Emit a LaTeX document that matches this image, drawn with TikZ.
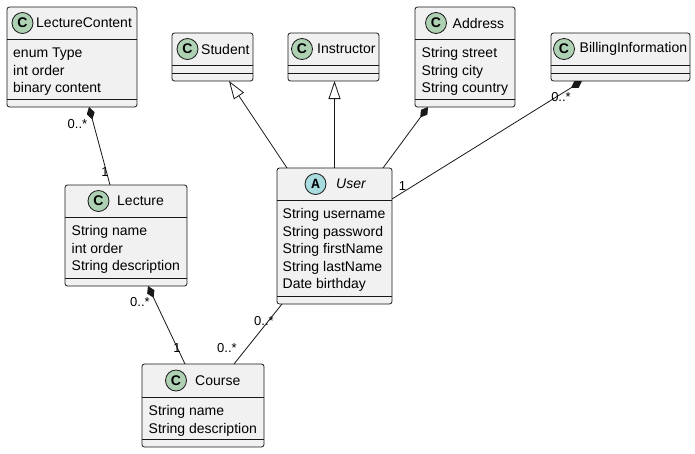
\documentclass[tikz,border=0pt]{standalone}
\usepackage{fontspec}
\setmainfont{Liberation Sans}
\newfontfamily\badgemono{Liberation Mono}
\usetikzlibrary{arrows.meta}
\definecolor{umlfill}{HTML}{F1F1F1}
\definecolor{umlline}{HTML}{181818}
\definecolor{cbadge}{HTML}{ADD1B2}
\definecolor{abadge}{HTML}{A9DCDF}

\begin{document}
\begin{tikzpicture}[x=1pt, y=-1pt,
        classbox/.style={draw=umlline, fill=umlfill, rounded corners=2.5pt, line width=0.8pt, inner sep=0pt, outer sep=0pt},
        badge/.style={circle, draw=umlline, line width=0.8pt, minimum size=21pt, inner sep=0pt, font=\fontsize{14}{14}\selectfont\bfseries},
        cname/.style={anchor=west, inner sep=0pt, font=\fontsize{14}{17}\selectfont},
        attr/.style={anchor=base west, inner sep=0pt, font=\fontsize{14}{17}\selectfont},
        mult/.style={inner sep=0pt, font=\fontsize{13}{15}\selectfont},
        sep/.style={umlline, line width=0.8pt},
        link/.style={umlline, line width=0.8pt},
        inh/.style={link, -{Triangle[open, length=18pt, width=12pt]}},
        comp/.style={link, {Diamond[length=13pt, width=8pt]}-}]
        \path[use as bounding box, fill=white] (0, 0) rectangle (695, 453);

        % LectureContent
        \node[classbox, minimum width=130pt, minimum height=100pt] (lc) at (72, 57) {};
        \node[badge, fill=cbadge] (lcbadge) at (22.5, 23) {C};
        \node[cname] (lcname) at (36, 23) {LectureContent};
        \draw[sep] (7, 39) -- (137, 39);
        \draw[sep] (7, 99) -- (137, 99);
        \foreach \t [count=\i] in {enum Type, int order, binary content}
            \node[attr] (lca\i) at (13, 40 + 17.5*\i) {\t};

        % Student
        \node[classbox, minimum width=81pt, minimum height=48pt] (student) at (212.5, 57) {};
        \node[badge, fill=cbadge] (stbadge) at (187.5, 49) {C};
        \node[cname] (stname) at (201, 49) {Student};
        \draw[sep] (172, 65) -- (253, 65);
        \draw[sep] (172, 73) -- (253, 73);

        % Instructor
        \node[classbox, minimum width=91pt, minimum height=48pt] (instructor) at (333.5, 57) {};
        \node[badge, fill=cbadge] (inbadge) at (302, 49) {C};
        \node[cname] (inname) at (317, 49) {Instructor};
        \draw[sep] (288, 65) -- (379, 65);
        \draw[sep] (288, 73) -- (379, 73);

        % Address
        \node[classbox, minimum width=100pt, minimum height=100pt] (address) at (465, 57) {};
        \node[badge, fill=cbadge] (adbadge) at (436, 23) {C};
        \node[cname] (adname) at (452.5, 23) {Address};
        \draw[sep] (415, 39) -- (515, 39);
        \draw[sep] (415, 99) -- (515, 99);
        \foreach \t [count=\i] in {String street, String city, String country}
            \node[attr] (ada\i) at (421.5, 40 + 17.5*\i) {\t};

        % BillingInformation
        \node[classbox, minimum width=139pt, minimum height=48pt] (billing) at (620.5, 57) {};
        \node[badge, fill=cbadge] (bibadge) at (564, 49) {C};
        \node[cname] (biname) at (579.5, 49) {BillingInformation};
        \draw[sep] (551, 65) -- (690, 65);
        \draw[sep] (551, 73) -- (690, 73);

        % Lecture
        \node[classbox, minimum width=122pt, minimum height=101pt] (lecture) at (126, 235.5) {};
        \node[badge, fill=cbadge] (lebadge) at (98.5, 201) {C};
        \node[cname] (lename) at (117, 201) {Lecture};
        \draw[sep] (65, 217) -- (187, 217);
        \draw[sep] (65, 278) -- (187, 278);
        \foreach \t [count=\i] in {String name, int order, String description}
            \node[attr] (lea\i) at (71.5, 218 + 17.5*\i) {\t};

        % User (abstract)
        \node[classbox, minimum width=115pt, minimum height=136pt] (user) at (334.5, 236) {};
        \node[badge, fill=abadge, font=\fontsize{14}{14}\selectfont\badgemono\bfseries] (usbadge) at (315.5, 184) {A};
        \node[cname, font=\fontsize{14}{17}\selectfont\itshape] (usname) at (336, 184) {User};
        \draw[sep] (277, 200) -- (392, 200);
        \draw[sep] (277, 296) -- (392, 296);
        \foreach \t [count=\i] in {String username, String password, String firstName, String lastName, Date birthday}
            \node[attr] (usa\i) at (282.5, 201 + 17.5*\i) {\t};

        % Course
        \node[classbox, minimum width=122pt, minimum height=83pt] (course) at (203, 405.5) {};
        \node[badge, fill=cbadge] (cobadge) at (176, 380.5) {C};
        \node[cname] (coname) at (195, 380.5) {Course};
        \draw[sep] (142, 397) -- (264, 397);
        \draw[sep] (142, 439) -- (264, 439);
        \foreach \t [count=\i] in {String name, String description}
            \node[attr] (coa\i) at (148.5, 398 + 17.5*\i) {\t};

        % inheritance
        \draw[inh] ([xshift=10pt]user.north west) -- ([xshift=-24pt]student.south east);
        \draw[inh] (user.north) -- (user.north |- instructor.south);

        % compositions
        \draw[comp] ([xshift=13pt]address.south west) -- ([xshift=-9pt]user.north east);
        \draw[comp] ([xshift=31pt]billing.south west) -- ([yshift=-31pt]user.north east);
        \draw[comp] ([xshift=82pt]lc.south west) -- ([xshift=45pt]lecture.north west);
        \draw[comp] ([xshift=83pt]lecture.south west) -- ([xshift=43pt]course.north west);

        % association
        \draw[link] ([xshift=5pt]user.south west) -- ([xshift=92pt]course.north west);

        % multiplicities
        \node[mult] (m1) at (77.5, 124) {0..*};
        \node[mult] (m2) at (105, 172.5) {1};
        \node[mult] (m3) at (140, 302) {0..*};
        \node[mult] (m4) at (177, 348) {1};
        \node[mult] (m5) at (264, 321.5) {0..*};
        \node[mult] (m6) at (227, 348) {0..*};
        \node[mult] (m7) at (402.5, 186.5) {1};
        \node[mult] (m8) at (561, 97) {0..*};
    \end{tikzpicture}
\end{document}
